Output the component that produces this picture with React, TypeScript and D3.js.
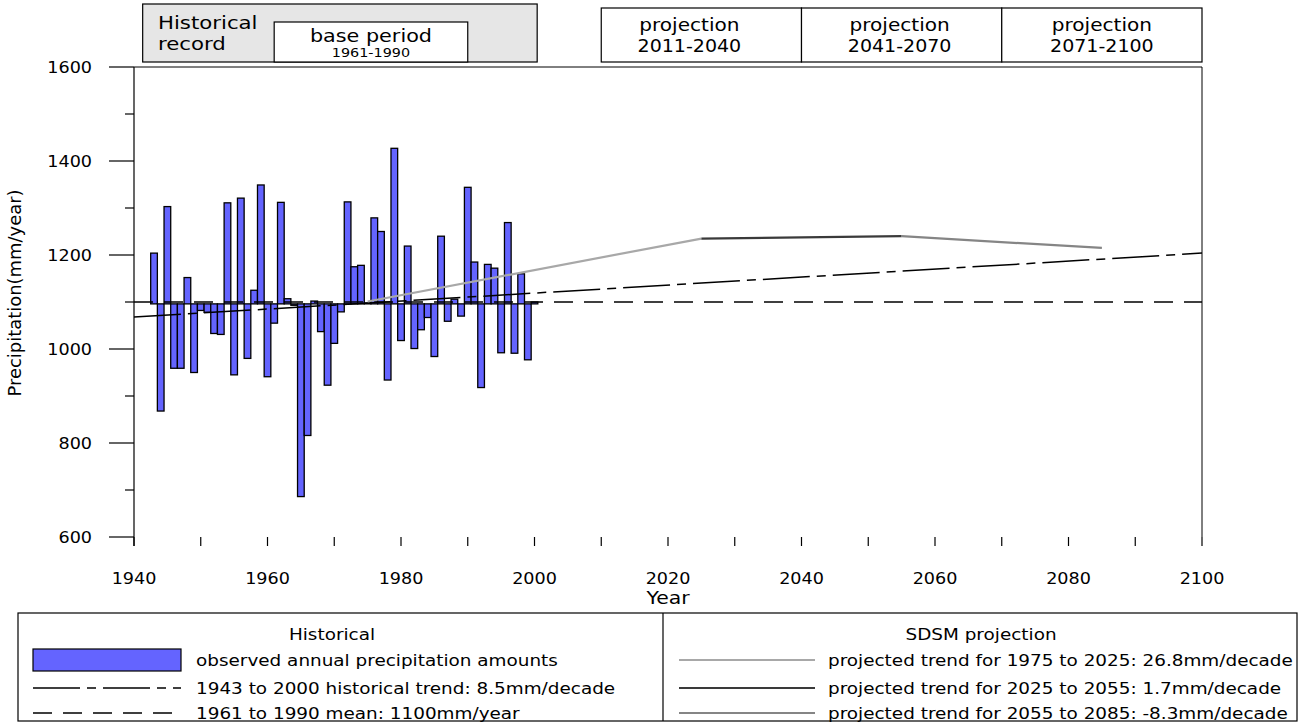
import React from "react";
import * as d3 from "d3";

const years: number[] = [
  1943, 1944, 1945, 1946, 1947, 1948, 1949, 1950, 1951, 1952, 1953, 1954, 1955, 1956, 1957,
  1958, 1959, 1960, 1961, 1962, 1963, 1964, 1965, 1966, 1967, 1968, 1969, 1970, 1971, 1972,
  1973, 1974, 1975, 1976, 1977, 1978, 1979, 1980, 1981, 1982, 1983, 1984, 1985, 1986, 1987,
  1988, 1989, 1990, 1991, 1992, 1993, 1994, 1995, 1996, 1997, 1998, 1999, 2000,
];
const precipitation: number[] = [
  1204, 868, 1303, 959, 959, 1152, 950, 1082, 1078, 1033, 1031, 1311, 945, 1321, 980,
  1125, 1349, 941, 1055, 1312, 1107, 1093, 686, 816, 1102, 1037, 923, 1012, 1079, 1313,
  1175, 1178, 1098, 1279, 1250, 934, 1427, 1018, 1219, 1001, 1041, 1067, 984, 1240, 1059,
  1106, 1070, 1344, 1185, 918, 1180, 1172, 992, 1269, 991, 1160, 977, 1100,
];
const barBaseline = 1096;

const historicalTrend: [number, number][] = [
  [1940, 1068],
  [2100, 1204],
];
const baseMean: [number, number][] = [
  [1940, 1100],
  [2100, 1100],
];
const projection1: [number, number][] = [
  [1975, 1101],
  [2025, 1235],
];
const projection2: [number, number][] = [
  [2025, 1235],
  [2055, 1240],
];
const projection3: [number, number][] = [
  [2055, 1240],
  [2085, 1215],
];

const yMajorTicks = [600, 800, 1000, 1200, 1400, 1600];
const yMinorTicks = [700, 900, 1100, 1300, 1500];
const xTicks = d3.range(1940, 2101, 10);
const xLabels = [1940, 1960, 1980, 2000, 2020, 2040, 2060, 2080, 2100];

const projectionBoxes = [
  { from: 2010, to: 2040, shift: -12, line1: "projection", line2: "2011-2040" },
  { from: 2040, to: 2070, shift: -2, line1: "projection", line2: "2041-2070" },
  { from: 2070, to: 2100, shift: 0, line1: "projection", line2: "2071-2100" },
];

const histLegend = [
  "observed annual precipitation amounts",
  "1943 to 2000 historical trend: 8.5mm/decade",
  "1961 to 1990 mean: 1100mm/year",
];
const projLegend = [
  "projected trend for 1975 to 2025: 26.8mm/decade",
  "projected trend for 2025 to 2055: 1.7mm/decade",
  "projected trend for 2055 to 2085: -8.3mm/decade",
];

const FONT = "'DejaVu Sans', Verdana, sans-serif";
const BAR_FILL = "#6464ff";
const C_P1 = "#a8a8a8";
const C_P2 = "#3a3a3a";
const C_P3 = "#858585";
const TREND_DASH = "47,7,9,7";
const MEAN_DASH = "19,11";

type STextProps = {
  x: number;
  y: number;
  sx?: number;
  size: number;
  anchor?: "start" | "middle" | "end";
  children: React.ReactNode;
};
function SText({ x, y, sx = 1, size, anchor = "start", children }: STextProps) {
  return (
    <text transform={`translate(${x},${y}) scale(${sx},1)`} fontSize={size} textAnchor={anchor} fill="#000">
      {children}
    </text>
  );
}

export default function App() {
  const W = 1307;
  const H = 728;
  const x = d3.scaleLinear().domain([1940, 2100]).range([134, 1202]);
  const y = d3.scaleLinear().domain([600, 1600]).range([537, 67]);
  const line = d3
    .line<[number, number]>()
    .x((d) => x(d[0]))
    .y((d) => y(d[1]));

  const top = y(1600);
  const bottom = y(600);
  const rowY = [660, 688, 713];

  return (
    <svg
      width={W}
      height={H}
      style={{ position: "absolute", left: 0, top: 0, background: "#fff" }}
      fontFamily={FONT}
    >
      {/* header boxes */}
      <rect x={x(1941.3)} y={4} width={x(2000.4) - x(1941.3)} height={58} fill="#e6e6e6" stroke="#000" strokeWidth={1.2} />
      <SText x={158} y={29} size={17} sx={1.25}>Historical</SText>
      <SText x={158} y={50} size={17} sx={1.25}>record</SText>
      <rect x={x(1961)} y={22} width={x(1990) - x(1961)} height={40} fill="#fff" stroke="#000" strokeWidth={1.2} />
      <SText x={(x(1961) + x(1990)) / 2} y={42} size={17} sx={1.22} anchor="middle">base period</SText>
      <SText x={(x(1961) + x(1990)) / 2} y={57} size={12.5} sx={1.15} anchor="middle">1961-1990</SText>
      {projectionBoxes.map((b) => (
        <g key={b.line2}>
          <rect x={x(b.from)} y={8} width={x(b.to) - x(b.from)} height={54} fill="#fff" stroke="#000" strokeWidth={1.2} />
          <SText x={(x(b.from) + x(b.to)) / 2 + b.shift} y={31} size={17} sx={1.18} anchor="middle">{b.line1}</SText>
          <SText x={(x(b.from) + x(b.to)) / 2 + b.shift} y={52} size={17} sx={1.12} anchor="middle">{b.line2}</SText>
        </g>
      ))}

      {/* frame top & right */}
      <line x1={x(1940)} x2={x(2100)} y1={top} y2={top} stroke="#000" strokeWidth={1} />
      <line x1={x(2100)} x2={x(2100)} y1={top} y2={bottom} stroke="#000" strokeWidth={1} />

      {/* bars */}
      {years.map((yr, i) => {
        const v = precipitation[i];
        const y0 = y(Math.max(v, barBaseline));
        const y1 = y(Math.min(v, barBaseline));
        return (
          <rect
            key={yr}
            x={x(yr - 0.5)}
            y={y0}
            width={x(yr + 0.5) - x(yr - 0.5)}
            height={Math.max(y1 - y0, 0.5)}
            fill={BAR_FILL}
            stroke="#000"
            strokeWidth={1.3}
          />
        );
      })}

      {/* lines */}
      <path d={line(baseMean) || ""} fill="none" stroke="#000" strokeWidth={1.3} strokeDasharray={MEAN_DASH} />
      <path d={line(historicalTrend) || ""} fill="none" stroke="#000" strokeWidth={1.5} strokeDasharray={TREND_DASH} />
      <path d={line(projection1) || ""} fill="none" stroke={C_P1} strokeWidth={2.2} />
      <path d={line(projection2) || ""} fill="none" stroke={C_P2} strokeWidth={2.2} />
      <path d={line(projection3) || ""} fill="none" stroke={C_P3} strokeWidth={2.2} />

      {/* y axis */}
      <line x1={x(1940)} x2={x(1940)} y1={top} y2={bottom + 9} stroke="#000" strokeWidth={1.2} />
      {yMajorTicks.map((t) => (
        <g key={t}>
          <line x1={109} x2={x(1940)} y1={y(t)} y2={y(t)} stroke="#000" strokeWidth={1.2} />
          <SText x={92} y={y(t) + 6} size={16} sx={1.1} anchor="end">{t}</SText>
        </g>
      ))}
      {yMinorTicks.map((t) => (
        <line key={t} x1={125} x2={x(1940)} y1={y(t)} y2={y(t)} stroke="#000" strokeWidth={1.2} />
      ))}
      <text
        transform={`translate(21, 293) rotate(-90)`}
        fontSize={17}
        textAnchor="middle"
        textLength={207}
        lengthAdjust="spacingAndGlyphs"
      >
        Precipitation(mm/year)
      </text>

      {/* x axis */}
      {xTicks.map((t) => (
        <line key={t} x1={x(t)} x2={x(t)} y1={bottom} y2={bottom + 9} stroke="#000" strokeWidth={1.2} />
      ))}
      {xLabels.map((t) => (
        <SText key={t} x={x(t)} y={584} size={16} sx={1.1} anchor="middle">{t}</SText>
      ))}
      <SText x={668} y={604} size={17} sx={1.2} anchor="middle">Year</SText>

      {/* legend */}
      <rect x={18} y={613} width={1279} height={108} fill="#fff" stroke="#000" strokeWidth={1.2} />
      <line x1={663} x2={663} y1={613} y2={721} stroke="#000" strokeWidth={1.2} />
      <SText x={332} y={640} size={16} sx={1.15} anchor="middle">Historical</SText>
      <rect x={33} y={649} width={148} height={22} fill={BAR_FILL} stroke="#000" strokeWidth={1.2} />
      <line x1={33} x2={181} y1={rowY[1]} y2={rowY[1]} stroke="#000" strokeWidth={1.5} strokeDasharray={TREND_DASH} />
      <line x1={33} x2={181} y1={rowY[2]} y2={rowY[2]} stroke="#000" strokeWidth={1.5} strokeDasharray={MEAN_DASH} />
      {histLegend.map((t, i) => (
        <SText key={t} x={196} y={rowY[i] + 6} size={16} sx={1.15}>{t}</SText>
      ))}
      <SText x={981} y={640} size={16} sx={1.15} anchor="middle">SDSM projection</SText>
      {[C_P1, C_P2, C_P3].map((c, i) => (
        <line key={c} x1={679} x2={815} y1={rowY[i]} y2={rowY[i]} stroke={c} strokeWidth={2.2} />
      ))}
      {projLegend.map((t, i) => (
        <SText key={t} x={828} y={rowY[i] + 6} size={16} sx={1.15}>{t}</SText>
      ))}
    </svg>
  );
}
